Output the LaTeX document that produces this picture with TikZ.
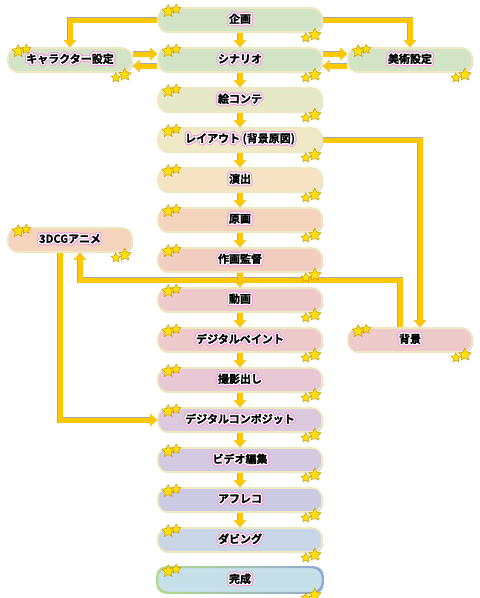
\documentclass[tikz,border=0pt]{standalone}
\usepackage{fontspec}
\newfontfamily\jpfont{Noto Sans CJK JP}[BoldFont={Noto Sans CJK JP Bold},BoldFeatures={FakeBold=1.5}]
\usepackage[copies]{contour}
\usetikzlibrary{arrows.meta,shadows}

\definecolor{flowyellow}{HTML}{FFC800}
\definecolor{rimcream}{HTML}{EFE8C2}
\definecolor{glowpink}{HTML}{F3A0DA}
\definecolor{starfill}{HTML}{FFE000}
\definecolor{starline}{HTML}{C08A00}
\definecolor{cGreen}{HTML}{D3E3C6}
\definecolor{cOlive}{HTML}{E6E8C7}
\definecolor{cCream}{HTML}{EFE9C8}
\definecolor{cSand}{HTML}{F5E3C4}
\definecolor{cPeach}{HTML}{F5D4BE}
\definecolor{cSalmon}{HTML}{F2CEC0}
\definecolor{cPink}{HTML}{EFCACB}
\definecolor{cRose}{HTML}{E8C8D4}
\definecolor{cLilac}{HTML}{DCC9DD}
\definecolor{cMauve}{HTML}{D3C9E0}
\definecolor{cViolet}{HTML}{CCCAE2}
\definecolor{cSky}{HTML}{C9D6E8}
\definecolor{cIce}{HTML}{C6E0EA}
\definecolor{rbGreen}{HTML}{B5D98A}
\definecolor{rbPink}{HTML}{F2A6B8}
\definecolor{rbBlue}{HTML}{8FA8D8}

\newcommand\glow[1]{\rlap{\contourlength{2.4pt}\contour{glowpink}{#1}}\contourlength{1.2pt}\contour{white}{#1}}

\tikzset{
  twinkle/.pic={
    \path[fill=starfill,draw=starline,line width=.4pt]
      (-90:#1) -- (-54:{.5*#1}) -- (-18:#1) -- (18:{.5*#1}) -- (54:#1)
      -- (90:{.5*#1}) -- (126:#1) -- (162:{.5*#1}) -- (198:#1) -- (234:{.5*#1}) -- cycle;
  }
}

\begin{document}
\begin{tikzpicture}[x=1pt,y=-1pt,
  stage/.style={draw=rimcream,line width=1.6pt,rounded corners=10pt,
    minimum width=164pt,minimum height=24pt,inner sep=0pt,
    font=\jpfont\bfseries\fontsize{11}{13}\selectfont,
    drop shadow={shadow xshift=1.2pt,shadow yshift=-1.2pt,opacity=.35}},
  side/.style={stage,minimum width=124pt},
  flow/.style={draw=flowyellow,line width=5pt,-{Triangle[width=12pt,length=7pt]},
    preaction={draw=black!35,line width=6.5pt}}]
\useasboundingbox (0,0) rectangle (480,598);

% stages
\node[stage,fill=cGreen] (plan) at (240,20) {\glow{企画}};
\node[stage,fill=cGreen] (scenario) at (240,60) {\glow{シナリオ}};
\node[side,fill=cGreen] (chara) at (70,60) {\glow{キャラクター設定}};
\node[side,fill=cGreen] (art) at (410,60) {\glow{美術設定}};
\node[stage,fill=cOlive] (storyboard) at (240,100) {\glow{絵コンテ}};
\node[stage,fill=cCream] (layout) at (240,140) {\glow{レイアウト (背景原図)}};
\node[stage,fill=cSand] (direct) at (240,180) {\glow{演出}};
\node[stage,fill=cPeach] (keyanim) at (240,220) {\glow{原画}};
\node[side,fill=cPeach] (cg) at (70,240) {\glow{3DCGアニメ}};
\node[stage,fill=cSalmon] (supervise) at (240,260) {\glow{作画監督}};
\node[stage,fill=cPink] (inbetween) at (240,300) {\glow{動画}};
\node[stage,fill=cPink] (paint) at (240,340) {\glow{デジタルペイント}};
\node[side,fill=cPink] (bg) at (410,340) {\glow{背景}};
\node[stage,fill=cRose] (photo) at (240,380) {\glow{撮影出し}};
\node[stage,fill=cLilac] (composite) at (240,420) {\glow{デジタルコンポジット}};
\node[stage,fill=cMauve] (edit) at (240,460) {\glow{ビデオ編集}};
\node[stage,fill=cViolet] (dub) at (240,500) {\glow{アフレコ}};
\node[stage,fill=cSky] (mix) at (240,540) {\glow{ダビング}};
\node[stage,fill=cIce,draw=none] (done) at (240,580) {\glow{完成}};
\shade[even odd rule,left color=rbGreen,middle color=rbPink,right color=rbBlue,rounded corners=10pt]
  ([shift={(-1pt,-1pt)}]done.south west) rectangle ([shift={(1pt,1pt)}]done.north east)
  ([shift={(1pt,1pt)}]done.south west) rectangle ([shift={(-1pt,-1pt)}]done.north east);

% flow
\coordinate (bend) at (240,280);
\draw[flow] ([xshift=-10pt]bg.north) |- (bend) -| ([xshift=10pt]cg.south);
\draw[flow] ([xshift=-10pt]cg.south) |- (composite.west);
\draw[flow] (layout.east) -| ([xshift=10pt]bg.north);
\draw[flow] (plan.west) -| (chara.north);
\draw[flow] (plan.east) -| (art.north);
\draw[flow] ([yshift=6pt]chara.east) -- ([yshift=6pt]scenario.west);
\draw[flow] ([yshift=-6pt]scenario.west) -- ([yshift=-6pt]chara.east);
\draw[flow] ([yshift=6pt]scenario.east) -- ([yshift=6pt]art.west);
\draw[flow] ([yshift=-6pt]art.west) -- ([yshift=-6pt]scenario.east);
\draw[flow] (plan) -- (scenario);
\draw[flow] (scenario) -- (storyboard);
\draw[flow] (storyboard) -- (layout);
\draw[flow] (layout) -- (direct);
\draw[flow] (direct) -- (keyanim);
\draw[flow] (keyanim) -- (supervise);
\draw[flow] (supervise) -- (inbetween);
\draw[flow] (inbetween) -- (paint);
\draw[flow] (paint) -- (photo);
\draw[flow] (photo) -- (composite);
\draw[flow] (composite) -- (edit);
\draw[flow] (edit) -- (dub);
\draw[flow] (dub) -- (mix);

% stars
\foreach \n in {plan,scenario,chara,art,storyboard,layout,direct,keyanim,cg,
  supervise,inbetween,paint,bg,photo,composite,edit,dub,mix,done} {
  \pic at ([xshift=11pt,yshift=-4pt]\n.north west) {twinkle=6.5};
  \pic at ([xshift=19pt,yshift=-2pt]\n.north west) {twinkle=5};
  \pic at ([xshift=-17pt,yshift=-5pt]\n.south east) {twinkle=5};
  \pic at ([xshift=-8pt,yshift=-2pt]\n.south east) {twinkle=6.5};
}
\end{tikzpicture}
\end{document}
